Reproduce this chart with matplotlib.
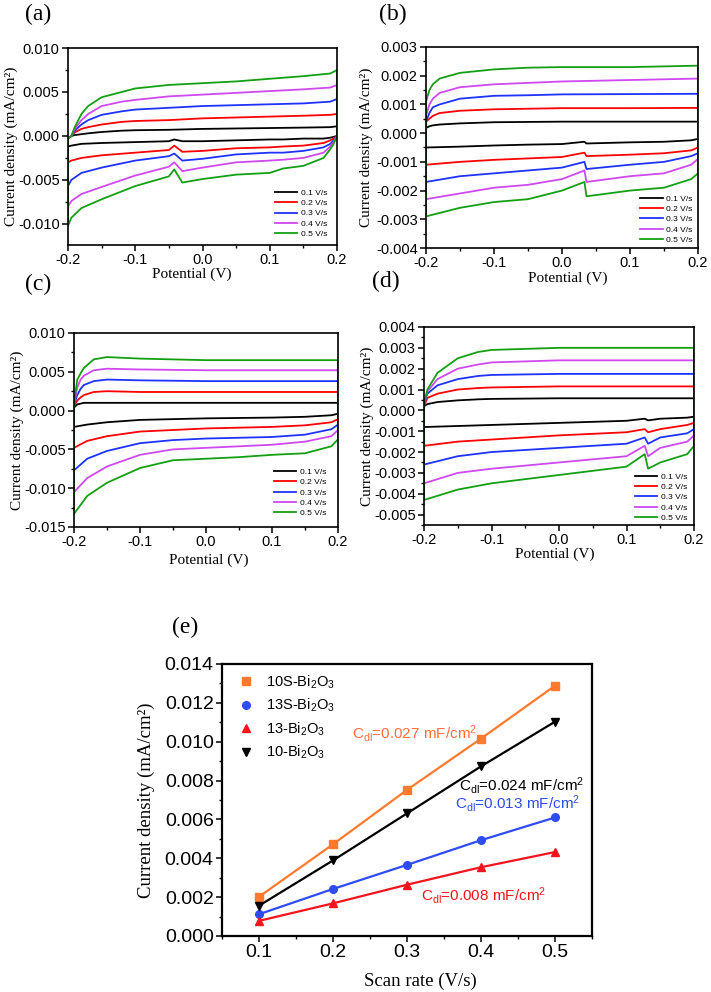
import matplotlib
matplotlib.use("Agg")
import matplotlib.pyplot as plt
from matplotlib.ticker import MultipleLocator, FormatStrFormatter

plt.rcParams['font.family'] = ['Liberation Sans', 'DejaVu Sans']
plt.rcParams['mathtext.fontset'] = 'custom'
plt.rcParams['mathtext.rm'] = 'Liberation Sans'
plt.rcParams['mathtext.it'] = 'Liberation Sans:italic'
plt.rcParams['axes.unicode_minus'] = False

W, H = 711, 992

scan_labels = ['0.1 V/s', '0.2 V/s', '0.3 V/s', '0.4 V/s', '0.5 V/s']
cv_colors = ['black', '#FF0000', '#1E32FF', '#D048F0', '#12A012']

# ---- panel (a)
a_up_E = [-0.2, -0.195, -0.19, -0.18, -0.17, -0.15, -0.12, -0.1, -0.05, 0.0, 0.05, 0.1, 0.15, 0.19, 0.2]
a_up = [
    [-0.0003, 0.0, 0.0001, 0.0002, 0.0003, 0.00045, 0.0006, 0.00065, 0.0007, 0.0008, 0.00085, 0.0009, 0.00095, 0.001, 0.0011],
    [-0.0003, 0.0, 0.0004, 0.0008, 0.001, 0.0013, 0.0016, 0.0017, 0.0018, 0.002, 0.0021, 0.0022, 0.0023, 0.0024, 0.0025],
    [-0.0003, 0.0, 0.0006, 0.0013, 0.0018, 0.0024, 0.0028, 0.003, 0.0032, 0.0034, 0.0035, 0.0036, 0.0037, 0.0039, 0.0042],
    [-0.0003, 0.0, 0.0008, 0.0018, 0.0025, 0.0034, 0.0039, 0.0041, 0.0045, 0.0047, 0.0049, 0.0051, 0.0053, 0.0055, 0.0058],
    [-0.0003, 0.0, 0.001, 0.0025, 0.0034, 0.0044, 0.005, 0.0054, 0.0058, 0.006, 0.0062, 0.0065, 0.0068, 0.0071, 0.0075],
]
a_dn_E = [0.2, 0.195, 0.19, 0.18, 0.15, 0.12, 0.1, 0.05, 0.0, -0.03, -0.042, -0.05, -0.1, -0.15, -0.18, -0.195, -0.2]
a_dn = [
    [0.0, -0.0001, -0.0002, -0.0003, -0.0003, -0.0004, -0.0004, -0.0005, -0.0006, -0.0006, -0.0004, -0.0006, -0.0007, -0.0008, -0.0009, -0.0011, -0.0012],
    [0.0, -0.0003, -0.0005, -0.0008, -0.0011, -0.0012, -0.0013, -0.0014, -0.0017, -0.0018, -0.0011, -0.0016, -0.0019, -0.0022, -0.0025, -0.0028, -0.003],
    [0.0, -0.0005, -0.0009, -0.0013, -0.0017, -0.0019, -0.0019, -0.0021, -0.0026, -0.0028, -0.002, -0.0023, -0.0028, -0.0036, -0.0042, -0.005, -0.0057],
    [0.0, -0.0007, -0.0012, -0.0019, -0.0025, -0.0027, -0.0028, -0.003, -0.0036, -0.004, -0.003, -0.0035, -0.0045, -0.0058, -0.0066, -0.0074, -0.008],
    [0.0, -0.0009, -0.0015, -0.0025, -0.0034, -0.0037, -0.0042, -0.0044, -0.0049, -0.0053, -0.0038, -0.0046, -0.0057, -0.0072, -0.0082, -0.0093, -0.0102],
]

# ---- panel (b)
b_up_E = [-0.2, -0.195, -0.19, -0.18, -0.15, -0.1, -0.05, 0.0, 0.1, 0.2]
b_up = [
    [0.00018, 0.00024, 0.00027, 0.0003, 0.00034, 0.00038, 0.00039, 0.0004, 0.0004, 0.0004],
    [0.0004, 0.0005, 0.0006, 0.0007, 0.00078, 0.00083, 0.00085, 0.00087, 0.00087, 0.00088],
    [0.0004, 0.0007, 0.0009, 0.001, 0.0012, 0.0013, 0.00132, 0.00135, 0.00136, 0.00137],
    [0.0006, 0.001, 0.0012, 0.0014, 0.0016, 0.0017, 0.00175, 0.0018, 0.00185, 0.0019],
    [0.0011, 0.0015, 0.0017, 0.0019, 0.0021, 0.00222, 0.00228, 0.0023, 0.0023, 0.00235],
]
b_dn_E = [0.2, 0.19, 0.15, 0.1, 0.036, 0.033, 0.0, -0.05, -0.1, -0.15, -0.2]
b_dn = [
    [-0.0002, -0.00025, -0.0003, -0.00032, -0.00036, -0.0003, -0.00038, -0.0004, -0.00043, -0.00047, -0.0005],
    [-0.0005, -0.0006, -0.0007, -0.00075, -0.0008, -0.00068, -0.00083, -0.00088, -0.00093, -0.001, -0.0011],
    [-0.0007, -0.0008, -0.001, -0.0011, -0.00125, -0.001, -0.0012, -0.0013, -0.0014, -0.0015, -0.0017],
    [-0.0009, -0.0011, -0.0014, -0.0015, -0.0017, -0.0013, -0.0016, -0.0018, -0.0019, -0.0021, -0.0023],
    [-0.0014, -0.0016, -0.0019, -0.002, -0.0022, -0.0017, -0.002, -0.0023, -0.0024, -0.0026, -0.0029],
]

# ---- panel (c)
c_up_E = [-0.2, -0.195, -0.19, -0.185, -0.17, -0.15, -0.1, 0.0, 0.1, 0.2]
c_up = [
    [0.0004, 0.0008, 0.0009, 0.001, 0.001, 0.001, 0.001, 0.001, 0.001, 0.001],
    [0.0006, 0.0013, 0.0017, 0.002, 0.0024, 0.0025, 0.0024, 0.0024, 0.0024, 0.0024],
    [0.0008, 0.002, 0.0028, 0.0033, 0.0038, 0.004, 0.0039, 0.0038, 0.0038, 0.0038],
    [0.0009, 0.003, 0.004, 0.0045, 0.0052, 0.0054, 0.0053, 0.0052, 0.0052, 0.0052],
    [0.001, 0.004, 0.0048, 0.0055, 0.0066, 0.0069, 0.0067, 0.0065, 0.0065, 0.0065],
]
c_dn_E = [0.2, 0.19, 0.15, 0.1, 0.05, 0.0, -0.05, -0.1, -0.15, -0.18, -0.2]
c_dn = [
    [-0.0004, -0.0006, -0.0008, -0.0009, -0.00095, -0.001, -0.0011, -0.0012, -0.0015, -0.0018, -0.0021],
    [-0.0011, -0.0015, -0.0019, -0.0021, -0.0022, -0.0023, -0.0025, -0.0027, -0.0033, -0.0039, -0.0048],
    [-0.0018, -0.0024, -0.0031, -0.0034, -0.0035, -0.0036, -0.0038, -0.0042, -0.0052, -0.0062, -0.0077],
    [-0.0025, -0.0033, -0.004, -0.0044, -0.0046, -0.0048, -0.005, -0.0057, -0.0072, -0.0087, -0.0105],
    [-0.0037, -0.0046, -0.0055, -0.0057, -0.006, -0.0062, -0.0064, -0.0074, -0.0093, -0.011, -0.0133],
]

# ---- panel (d)
d_up_E = [-0.2, -0.195, -0.18, -0.15, -0.12, -0.1, 0.0, 0.1, 0.2]
d_up = [
    [0.0002, 0.0003, 0.0004, 0.00048, 0.00053, 0.00055, 0.00058, 0.00058, 0.00058],
    [0.0002, 0.0006, 0.0008, 0.001, 0.00107, 0.0011, 0.00115, 0.00115, 0.00115],
    [0.0003, 0.0008, 0.0012, 0.0015, 0.00165, 0.0017, 0.00175, 0.00175, 0.00175],
    [0.0003, 0.0009, 0.0015, 0.002, 0.0022, 0.0023, 0.0024, 0.0024, 0.0024],
    [0.0003, 0.001, 0.0018, 0.0025, 0.0028, 0.0029, 0.003, 0.003, 0.003],
]
d_dn_E = [0.2, 0.19, 0.15, 0.132, 0.127, 0.1, 0.0, -0.1, -0.15, -0.2]
d_dn = [
    [-0.0003, -0.00035, -0.0004, -0.00048, -0.0004, -0.0005, -0.0006, -0.0007, -0.00075, -0.0008],
    [-0.0006, -0.0007, -0.0009, -0.00105, -0.0009, -0.00105, -0.0012, -0.0014, -0.0015, -0.0017],
    [-0.0009, -0.0011, -0.0013, -0.0016, -0.0013, -0.0016, -0.0018, -0.002, -0.0022, -0.0026],
    [-0.0012, -0.0015, -0.0018, -0.0022, -0.0017, -0.0022, -0.0025, -0.0028, -0.003, -0.0035],
    [-0.0017, -0.0021, -0.0025, -0.0028, -0.0021, -0.0027, -0.0031, -0.0035, -0.0038, -0.0043],
]

# ---- panel (e)
rates = [0.1, 0.2, 0.3, 0.4, 0.5]
j_10S = [0.00202, 0.00472, 0.00752, 0.01016, 0.01288]
j_13S = [0.00112, 0.00242, 0.00366, 0.00493, 0.0061]
j_13 = [0.00078, 0.00168, 0.00264, 0.00354, 0.00432]
j_10 = [0.00156, 0.00389, 0.00631, 0.00873, 0.01103]


def rect(l, t, r, b):
    return [l / W, 1 - b / H, (r - l) / W, (b - t) / H]


def style_axes(ax, tsize, xmaj, ymaj):
    for s in ax.spines.values():
        s.set_linewidth(1.2)
    ax.xaxis.set_major_locator(MultipleLocator(xmaj))
    ax.xaxis.set_minor_locator(MultipleLocator(xmaj / 2))
    ax.yaxis.set_major_locator(MultipleLocator(ymaj))
    ax.yaxis.set_minor_locator(MultipleLocator(ymaj / 2))
    ax.tick_params(which='major', direction='out', length=4, width=1.1, labelsize=tsize, pad=2)
    ax.tick_params(which='minor', direction='out', length=2, width=1.0)
    ax.yaxis.set_major_formatter(FormatStrFormatter('%.3f'))
    ax.xaxis.set_major_formatter(FormatStrFormatter('%.1f'))


fig = plt.figure(figsize=(W / 100, H / 100), dpi=100)

cv_panels = [
    (a_up_E, a_up, a_dn_E, a_dn, rect(68, 48, 337, 245), (-0.0124, 0.010), 0.005,
     (-0.185, 0.5), (0.46, -0.115), (0.963, 0.035)),
    (b_up_E, b_up, b_dn_E, b_dn, rect(426, 47, 698, 248), (-0.004, 0.003), 0.001,
     (-0.195, 0.5), (0.52, -0.115), (0.98, 0.02)),
    (c_up_E, c_up, c_dn_E, c_dn, rect(74, 333, 338, 527), (-0.015, 0.010), 0.005,
     (-0.19, 0.5), (0.51, -0.139), (0.955, 0.05)),
    (d_up_E, d_up, d_dn_E, d_dn, rect(424, 327, 694, 525), (-0.0055, 0.004), 0.001,
     (-0.185, 0.5), (0.485, -0.116), (0.974, 0.015)),
]

for upE, up, dnE, dn, r, ylim, ymaj, ylc, xlc, lgc in cv_panels:
    ax = fig.add_axes(r)
    for i in range(5):
        xs = upE + dnE + [upE[0]]
        ys = up[i] + dn[i] + [up[i][0]]
        ax.plot(xs, ys, color=cv_colors[i], lw=1.3, label=scan_labels[i])
    ax.set_xlim(-0.2, 0.2)
    ax.set_ylim(*ylim)
    style_axes(ax, 10.5, 0.1, ymaj)
    ax.set_ylabel('Current density (mA/cm²)', family='Liberation Serif', fontsize=11)
    ax.set_xlabel('Potential (V)', family='Liberation Serif', fontsize=11)
    ax.yaxis.set_label_coords(*ylc)
    ax.xaxis.set_label_coords(*xlc)
    ax.legend(loc='lower right', bbox_to_anchor=lgc, frameon=False, fontsize=6.0,
              handlelength=2.7, handletextpad=0.4, labelspacing=0.3, borderpad=0,
              borderaxespad=0)

# ---- scan rate plot
ax = fig.add_axes(rect(222, 664, 592, 936))
series = [
    (j_10S, '#FF7A2E', 's', '10S-Bi$_2$O$_3$'),
    (j_13S, '#2E4BF5', 'o', '13S-Bi$_2$O$_3$'),
    (j_13, '#F5141E', '^', '13-Bi$_2$O$_3$'),
    (j_10, 'black', 'v', '10-Bi$_2$O$_3$'),
]
for j, col, mk, lab in series:
    ax.plot(rates, j, color=col, lw=1.6, zorder=2)
    ax.plot(rates, j, ls='none', marker=mk, color=col, ms=5.5, label=lab, zorder=3)
ax.set_xlim(0.05, 0.55)
ax.set_ylim(0, 0.014)
style_axes(ax, 14, 0.1, 0.002)
for s in ax.spines.values():
    s.set_linewidth(1.6)
ax.set_ylabel('Current density (mA/cm²)', family='Liberation Serif', fontsize=13.5)
ax.set_xlabel('Scan rate (V/s)', family='Liberation Serif', fontsize=13.5)
ax.yaxis.set_label_coords(-0.181, 0.5)
ax.xaxis.set_label_coords(0.535, -0.136)
ax.legend(loc='upper left', bbox_to_anchor=(0.045, 0.965), frameon=False, fontsize=10.5,
          handlelength=1.0, handletextpad=0.9, labelspacing=0.42, borderpad=0,
          borderaxespad=0)


def ax_xy(px, py):
    return ((px - 222) / 370, (936 - py) / 272)


cdl_notes = [
    ('C$_{\\mathregular{dl}}$=0.027 mF/cm$^{2}$', '#FF6F3C', 352, 733),
    ('C$_{\\mathregular{dl}}$=0.024 mF/cm$^{2}$', 'black', 459, 785),
    ('C$_{\\mathregular{dl}}$=0.013 mF/cm$^{2}$', '#2E4BF5', 455, 804),
    ('C$_{\\mathregular{dl}}$=0.008 mF/cm$^{2}$', '#F5141E', 421, 895),
]
for txt, col, px, py in cdl_notes:
    ax.text(*ax_xy(px, py), txt, color=col, fontsize=11, ha='left', va='center',
            transform=ax.transAxes)

# panel letters
for lab, px, py in [('(a)', 38, 14), ('(b)', 393, 14), ('(c)', 38, 284),
                    ('(d)', 386, 281), ('(e)', 185, 627)]:
    fig.text(px / W, 1 - py / H, lab, family='Liberation Serif', fontsize=17,
             ha='center', va='center')

fig.savefig('out.png', dpi=100)
